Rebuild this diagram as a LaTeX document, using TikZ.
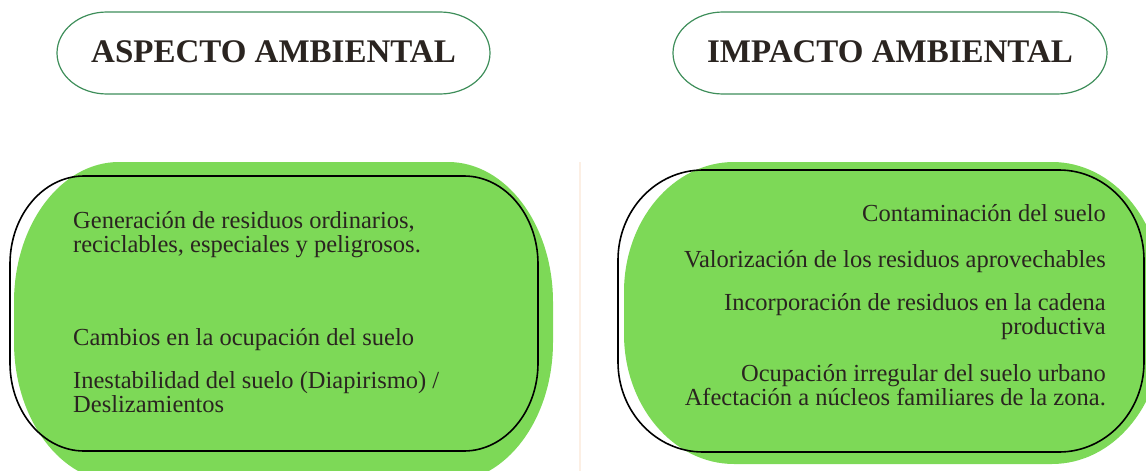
\documentclass[tikz,border=0pt]{standalone}
\usepackage{fontspec}
\setmainfont{Liberation Serif}
\definecolor{blobgreen}{HTML}{7DD957}
\definecolor{titlegreen}{HTML}{3E8E5A}
\definecolor{ink}{HTML}{2A2420}
\definecolor{peach}{HTML}{FCEFE4}
\newcommand{\myoval}[7]{%
 \pgfmathsetmacro\ka{0.4477*#6}\pgfmathsetmacro\kb{0.4477*#7}%
 \path[#1] (#2+#6,#3) -- (#4-#6,#3) .. controls (#4-\ka,#3) and (#4,#3+\kb) .. (#4,#3+#7)
   -- (#4,#5-#7) .. controls (#4,#5-\kb) and (#4-\ka,#5) .. (#4-#6,#5)
   -- (#2+#6,#5) .. controls (#2+\ka,#5) and (#2,#5-\kb) .. (#2,#5-#7)
   -- (#2,#3+#7) .. controls (#2,#3+\kb) and (#2+\ka,#3) .. (#2+#6,#3) -- cycle;}
\tikzset{
  titletext/.style={inner sep=0pt, font=\fontsize{33}{36}\selectfont\bfseries, text=ink},
  titleline/.style={draw=titlegreen, line width=1.2pt},
  blob/.style={fill=blobgreen, draw=none},
  outline/.style={draw=black, line width=1.6pt},
  bodytext/.style={font=\fontsize{24.5}{23.5}\selectfont, text=ink, inner sep=0pt}
}
\begin{document}
\begin{tikzpicture}[x=1pt,y=-1pt]
\useasboundingbox (0,0) rectangle (1146,471);
\clip (0,0) rectangle (1146,471);
% titles
\myoval{titleline}{57}{12}{490}{94}{50}{41}
\myoval{titleline}{673}{12}{1107}{94}{50}{41}
\node[titletext, anchor=base] (asp) at (273.5,62) {ASPECTO AMBIENTAL};
\node[titletext, anchor=base] (imp) at (890,62) {IMPACTO AMBIENTAL};
% separator
\draw[peach, line width=2.5pt] (580,162) -- (580,471);
% left blob
\myoval{blob}{14}{162}{553}{482}{105}{140}
\myoval{outline}{10}{176}{538}{451}{74}{88}
% right blob
\myoval{blob}{624}{162}{1162}{464}{110}{130}
\myoval{outline}{618}{170}{1144}{452}{85}{90}
% left text
\node[bodytext, anchor=base west, align=left] (g) at (73,252) {Generación de residuos ordinarios,\\reciclables, especiales y peligrosos.};
\node[bodytext, anchor=base west] (c) at (73,345) {Cambios en la ocupación del suelo};
\node[bodytext, anchor=base west, align=left] (i) at (73,412) {Inestabilidad del suelo (Diapirismo) /\\Deslizamientos};
% right text
\node[bodytext, anchor=base east] (r1) at (1106,221) {Contaminación del suelo};
\node[bodytext, anchor=base east] (r2) at (1106,267) {Valorización de los residuos aprovechables};
\node[bodytext, anchor=base east, align=right] (r3) at (1106,334) {Incorporación de residuos en la cadena\\productiva};
\node[bodytext, anchor=base east, align=right] (r4) at (1106,405) {Ocupación irregular del suelo urbano\\Afectación a núcleos familiares de la zona.};
\end{tikzpicture}
\end{document}
